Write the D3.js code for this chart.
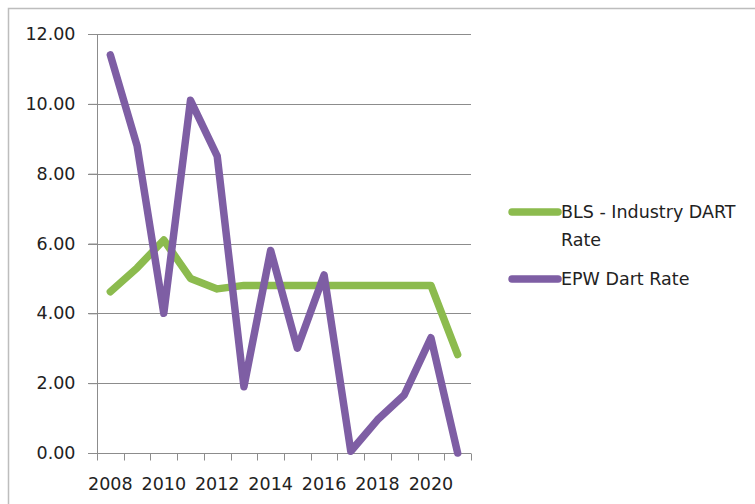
<!DOCTYPE html>
<html>
<head>
<meta charset="utf-8">
<script src="https://cdn.jsdelivr.net/npm/d3@7"></script>
<style>
  body { margin: 0; background: #fff; }
  svg text { font-family: "DejaVu Sans", sans-serif; fill: #222; }
</style>
</head>
<body>
<div id="chart"></div>
<script>
// data
var years = ["2008","2009","2010","2011","2012","2013","2014","2015","2016","2017","2018","2019","2020","2021"];
var blsRate = [4.62, 5.3, 6.1, 5.0, 4.7, 4.8, 4.8, 4.8, 4.8, 4.8, 4.8, 4.8, 4.8, 2.82];
var epwRate = [11.4, 8.8, 4.0, 10.1, 8.5, 1.9, 5.8, 3.0, 5.1, 0.05, 0.95, 1.66, 3.3, 0.0];
var yTicks = [0, 2, 4, 6, 8, 10, 12];
var seriesNames = ["BLS - Industry DART Rate", "EPW Dart Rate"];

var W = 755, H = 504;
var plot = { left: 97, right: 471, top: 34, bottom: 453 };
var fontSize = 17.5;

var svg = d3.select("#chart").append("svg").attr("width", W).attr("height", H);

// outer chart frame (runs off the right and bottom edges)
svg.append("rect").attr("x", 8.5).attr("y", 8.5).attr("width", 800).attr("height", 600)
  .attr("fill", "none").attr("stroke", "#bdbdbd").attr("stroke-width", 1.5);

var x = d3.scaleBand().domain(years).range([plot.left, plot.right]);
var y = d3.scaleLinear().domain([0, 12]).range([plot.bottom, plot.top]);

// gridlines
svg.append("g").selectAll("line").data(yTicks.filter(function(d){ return d > 0; })).join("line")
  .attr("x1", plot.left - 9).attr("x2", plot.right)
  .attr("y1", function(d){ return Math.round(y(d)) + 0.5; })
  .attr("y2", function(d){ return Math.round(y(d)) + 0.5; })
  .attr("stroke", "#8c8c8c").attr("stroke-width", 1);

// y axis
var yAxis = svg.append("g").attr("transform", "translate(" + (plot.left + 0.5) + ",0)")
  .call(d3.axisLeft(y).tickValues(yTicks).tickFormat(d3.format(".2f")).tickSize(9).tickPadding(13));
yAxis.select(".domain").attr("stroke", "#8c8c8c").attr("d", "M0," + plot.top + "V" + plot.bottom);
yAxis.selectAll(".tick line").attr("stroke", "#8c8c8c");
yAxis.selectAll("text").attr("font-size", fontSize).attr("fill", "#222").style("font-family", "'DejaVu Sans', sans-serif");

// x axis: ticks sit between categories, labels on every other year
var xAxisG = svg.append("g").attr("transform", "translate(0," + (plot.bottom + 0.5) + ")");
xAxisG.append("line").attr("x1", plot.left - 9).attr("x2", plot.right)
  .attr("stroke", "#8c8c8c");
var bounds = years.map(function(d){ return x(d); }).concat([x(years[years.length - 1]) + x.bandwidth()]);
xAxisG.selectAll(".xt").data(bounds).join("line").attr("class", "xt")
  .attr("x1", function(d){ return Math.round(d) + 0.5; })
  .attr("x2", function(d){ return Math.round(d) + 0.5; })
  .attr("y1", 0).attr("y2", 7).attr("stroke", "#8c8c8c");
xAxisG.selectAll("text").data(years.filter(function(d, i){ return i % 2 === 0; })).join("text")
  .attr("x", function(d){ return x(d) + x.bandwidth() / 2; })
  .attr("y", 36).attr("text-anchor", "middle").attr("font-size", fontSize)
  .text(function(d){ return d; });

// lines
var line = function(vals) {
  return d3.line()
    .x(function(d, i){ return x(years[i]) + x.bandwidth() / 2; })
    .y(function(d){ return y(d); })(vals);
};
var colors = ["#8cbb4e", "#7e5ea4"];
[blsRate, epwRate].forEach(function(vals, k) {
  svg.append("path").attr("d", line(vals)).attr("fill", "none")
    .attr("stroke", colors[k]).attr("stroke-width", 7.5)
    .attr("stroke-linejoin", "round").attr("stroke-linecap", "round");
});

// legend
var legend = svg.append("g");
var legendRows = [
  { y: 212, lines: ["BLS - Industry DART", "Rate"] },
  { y: 279, lines: ["EPW Dart Rate"] }
];
legendRows.forEach(function(r, k) {
  legend.append("line").attr("x1", 512).attr("x2", 558).attr("y1", r.y).attr("y2", r.y)
    .attr("stroke", colors[k]).attr("stroke-width", 7.5).attr("stroke-linecap", "round");
  r.lines.forEach(function(t, j) {
    legend.append("text").attr("x", 561).attr("y", r.y + 6 + j * 28)
      .attr("font-size", fontSize).text(t);
  });
});
</script>
</body>
</html>
